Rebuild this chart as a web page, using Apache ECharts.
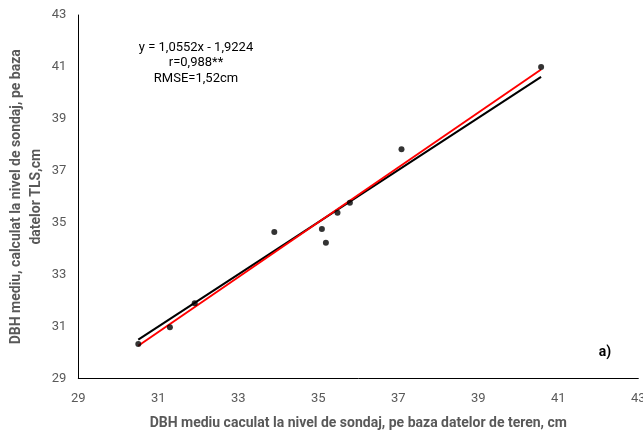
<!DOCTYPE html>
<html>
<head>
<meta charset="utf-8">
<script src="https://cdn.jsdelivr.net/npm/echarts@6/dist/echarts.min.js"></script>
<style>html,body{margin:0;padding:0;background:#fff}#c{width:643px;height:430px}</style>
</head>
<body>
<div id="c"></div>
<script>
// Observed points: field DBH (x) vs TLS DBH (y)
const xField = [30.5, 31.29, 31.91, 33.9, 35.09, 35.19, 35.48, 35.79, 37.08, 40.57];
const yTLS   = [30.33, 30.97, 31.9, 34.64, 34.76, 34.23, 35.38, 35.77, 37.83, 41.0];
// Black line (1:1) endpoints
const blackX = [30.5, 40.57];
const blackY = [30.5, 40.62];
// Red regression line endpoints
const redX = [30.5, 40.57];
const redY = [30.26, 40.9];
const axisTicks = [29, 31, 33, 35, 37, 39, 41, 43];
const annotation = ['y = 1,0552x - 1,9224', 'r=0,988**', 'RMSE=1,52cm'];
const xTitle = 'DBH mediu caculat la nivel de sondaj, pe baza datelor de teren, cm';
const yTitle = 'DBH mediu, calculat la nivel de sondaj, pe baza\ndatelor TLS,cm';
const panelLabel = 'a)';

const FONT = "Roboto, 'Open Sans', sans-serif";
const chart = echarts.init(document.getElementById('c'), null, {renderer: 'canvas'});
const pts = xField.map((x, i) => [x, yTLS[i]]);
const axisCommon = {
  type: 'value',
  min: axisTicks[0], max: axisTicks[axisTicks.length - 1], interval: 2,
  splitLine: {show: false},
  axisTick: {show: false},
  axisLine: {show: true, onZero: false, lineStyle: {color: '#000', width: 1}},
  axisLabel: {color: '#595959', fontSize: 13, fontFamily: FONT},
  nameLocation: 'middle',
  nameMoveOverlap: false,
  nameTextStyle: {color: '#595959', fontSize: 14, fontWeight: 'bold', fontFamily: FONT}
};
chart.setOption({
  animation: false,
  grid: {left: 78.3, right: 4.7, top: 15, bottom: 51.5, outerBoundsMode: 'none', containLabel: false},
  xAxis: Object.assign({}, axisCommon, {name: xTitle, nameGap: 38, axisLabel: Object.assign({}, axisCommon.axisLabel, {margin: 14})}),
  yAxis: Object.assign({}, axisCommon, {name: yTitle, nameGap: 32, axisLabel: Object.assign({}, axisCommon.axisLabel, {margin: 12}),
    nameTextStyle: Object.assign({}, axisCommon.nameTextStyle, {lineHeight: 20})}),
  series: [
    {type: 'line', data: blackX.map((x, i) => [x, blackY[i]]), symbol: 'none', lineStyle: {color: '#000', width: 2}, z: 2},
    {type: 'line', data: redX.map((x, i) => [x, redY[i]]), symbol: 'none', lineStyle: {color: '#ff0000', width: 2}, z: 3},
    {type: 'scatter', data: pts, symbol: 'circle', symbolSize: 6, itemStyle: {color: '#000'}, z: 4}
  ],
  graphic: [
    {type: 'text', x: 196, y: 39.5, style: {text: annotation.join('\n'), fill: '#000', font: "13px " + FONT, align: 'center', verticalAlign: 'top', lineHeight: 15.5}},
    {type: 'text', x: 605, y: 352, style: {text: panelLabel, fill: '#000', font: "bold 14px " + FONT, align: 'center', verticalAlign: 'middle'}}
  ]
});
</script>
</body>
</html>
